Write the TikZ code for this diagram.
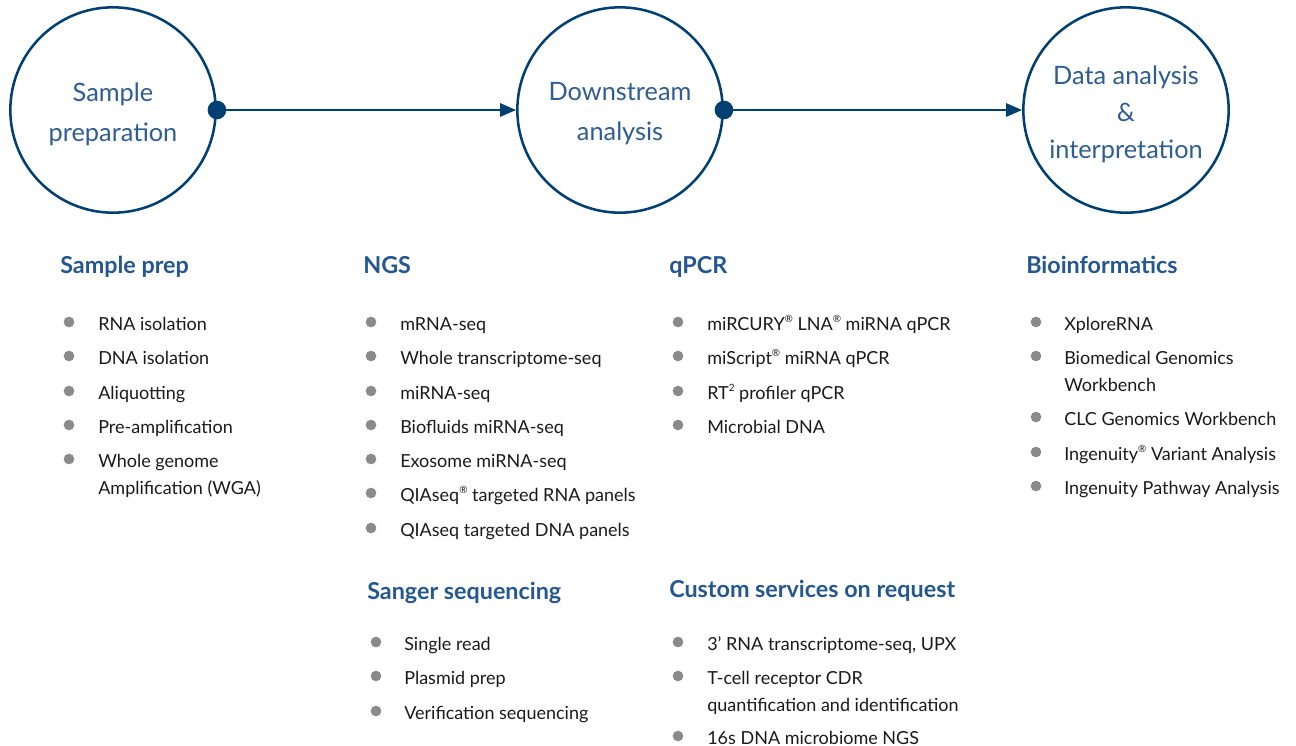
\documentclass[tikz,border=0pt]{standalone}
\usepackage{fontspec}
\setmainfont{Lato}
\usetikzlibrary{arrows.meta}
\definecolor{navy}{HTML}{003F72}
\definecolor{stagetext}{HTML}{2E5D91}
\definecolor{headblue}{HTML}{245790}
\definecolor{dotgray}{HTML}{8A8A8A}
\definecolor{itemtext}{HTML}{1A1A1A}
\newcommand{\twoline}[2]{\begin{tabular}[t]{@{}l@{}}#1\\#2\end{tabular}}
\newcommand{\supsmall}[1]{\raisebox{0.85ex}{\fontsize{7.5}{8}\selectfont #1}}
\begin{document}
\begin{tikzpicture}[
  x=0.75pt, y=-0.75pt,
  stage/.style={circle, draw=navy, line width=1.9pt, minimum size=154pt, inner sep=0pt},
  stagelabel/.style={align=center, inner sep=0pt, text=stagetext, font=\fontsize{19}{30}\selectfont},
  joint/.style={circle, fill=navy, inner sep=0pt, minimum size=14pt},
  flow/.style={draw=navy, line width=1.5pt, -{Triangle[length=12pt, width=10pt]}},
  head/.style={anchor=base west, inner sep=0pt, text=headblue, font=\bfseries\fontsize{17.5}{22}\selectfont},
  item/.style={anchor=base west, inner sep=0pt, text=itemtext, font=\fontsize{13.5}{20.25}\selectfont},
  dot/.style={circle, fill=dotgray, inner sep=0pt, minimum size=8pt}
]
\useasboundingbox (0,0) rectangle (1296,746);

% stages
\node[stage] (prep) at (113,110) {};
\node[stage] (down) at (620,110) {};
\node[stage] (data) at (1126,110) {};
\node[stagelabel] (prep-text) at ([yshift=-3pt]prep.center) {Sample\\preparation};
\node[stagelabel] (down-text) at ([yshift=-3pt]down.center) {Downstream\\analysis};
\node[stagelabel] (data-text) at ([yshift=-3pt]data.center) {Data analysis\\[-2.25pt]\&\\[-2.25pt]interpretation};

\draw[flow] (prep.east) -- (down.west);
\draw[flow] (down.east) -- (data.west);
\node[joint] (j1) at (prep.east) {};
\node[joint] (j2) at (down.east) {};

% headings
\node[head] (h-prep) at (60,273) {Sample prep};
\node[head] (h-ngs)  at (363,273) {NGS};
\node[head] (h-qpcr) at (669,273) {qPCR};
\node[head] (h-bio)  at (1026,273) {Bioinformatics};
\node[head] (h-sang) at (367,599) {Sanger sequencing};
\node[head] (h-cust) at (669,597) {Custom services on request};

% lists
\foreach \y/\t [count=\i] in {330/RNA isolation, 364/DNA isolation, 399/Aliquotting,
    433/Pre-amplification, 467/{\twoline{Whole genome}{Amplification (WGA)}}} {
  \node[dot] (prep-\i-dot) at (69,\y-8) {};
  \node[item] (prep-\i) at (98,\y) {\t};
}
\foreach \y/\t [count=\i] in {330/mRNA-seq, 364/Whole transcriptome-seq, 399/miRNA-seq,
    433/Biofluids miRNA-seq, 467/Exosome miRNA-seq,
    501/{QIAseq\supsmall{®} targeted RNA panels}, 536/QIAseq targeted DNA panels} {
  \node[dot] (ngs-\i-dot) at (371,\y-8) {};
  \node[item] (ngs-\i) at (400,\y) {\t};
}
\foreach \y/\t [count=\i] in {330/{miRCURY\supsmall{®} LNA\supsmall{®} miRNA qPCR},
    364/{miScript\supsmall{®} miRNA qPCR}, 399/{RT\supsmall{2} profiler qPCR},
    433/Microbial DNA} {
  \node[dot] (qpcr-\i-dot) at (678,\y-8) {};
  \node[item] (qpcr-\i) at (707,\y) {\t};
}
\foreach \y/\t [count=\i] in {330/XploreRNA, 364/{\twoline{Biomedical Genomics}{Workbench}},
    425/CLC Genomics Workbench, 460/{Ingenuity\supsmall{®} Variant Analysis},
    494/Ingenuity Pathway Analysis} {
  \node[dot] (bio-\i-dot) at (1036,\y-8) {};
  \node[item] (bio-\i) at (1064,\y) {\t};
}
\foreach \y/\t [count=\i] in {650/Single read, 684/Plasmid prep, 719/Verification sequencing} {
  \node[dot] (sang-\i-dot) at (376,\y-8) {};
  \node[item] (sang-\i) at (404,\y) {\t};
}
\foreach \y/\t [count=\i] in {650/{3’ RNA transcriptome-seq, UPX},
    684/{\twoline{T-cell receptor CDR}{quantification and identification}}, 744/16s DNA microbiome NGS} {
  \node[dot] (cust-\i-dot) at (678,\y-8) {};
  \node[item] (cust-\i) at (707,\y) {\t};
}
\end{tikzpicture}
\end{document}
